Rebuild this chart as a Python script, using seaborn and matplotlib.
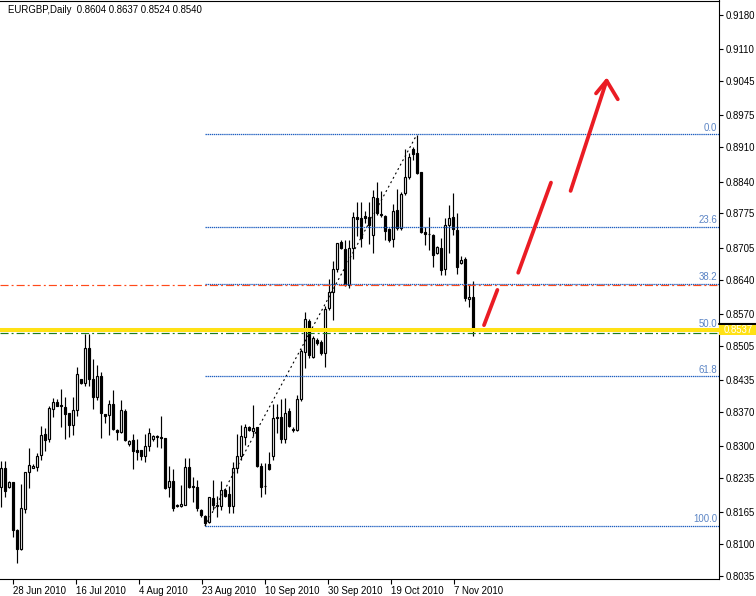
import numpy as np
import pandas as pd
import matplotlib
matplotlib.use("Agg")
import matplotlib.pyplot as plt
import matplotlib.transforms as mtransforms
from matplotlib.patches import Rectangle
from matplotlib.lines import Line2D
import seaborn as sns

title_text = "EURGBP,Daily  0.8604 0.8637 0.8524 0.8540"

opens = [0.8216, 0.8255, 0.8216, 0.8227, 0.8129, 0.8090, 0.8171, 0.8247, 0.8256, 0.8258,
         0.8282, 0.8324, 0.8314, 0.8375, 0.8390, 0.8384, 0.8381, 0.8367, 0.8343, 0.8373,
         0.8437, 0.8428, 0.8500, 0.8437, 0.8401, 0.8444, 0.8365, 0.8363, 0.8386, 0.8333,
         0.8330, 0.8372, 0.8304, 0.8312, 0.8292, 0.8292, 0.8280, 0.8300, 0.8314, 0.8321,
         0.8318, 0.8317, 0.8216, 0.8229, 0.8180, 0.8177, 0.8181, 0.8257, 0.8219, 0.8216,
         0.8170, 0.8158, 0.8146, 0.8194, 0.8178, 0.8178, 0.8211, 0.8203, 0.8178, 0.8255,
         0.8279, 0.8318, 0.8340, 0.8332, 0.8339, 0.8260, 0.8219, 0.8264, 0.8280, 0.8359,
         0.8359, 0.8314, 0.8371, 0.8336, 0.8334, 0.8396, 0.8493, 0.8556, 0.8483, 0.8517,
         0.8512, 0.8490, 0.8583, 0.8615, 0.8661, 0.8717, 0.8702, 0.8629, 0.8704, 0.8767,
         0.8765, 0.8770, 0.8767, 0.8732, 0.8806, 0.8773, 0.8770, 0.8743, 0.8722, 0.8782,
         0.8745, 0.8816, 0.8849, 0.8906, 0.8898, 0.8859, 0.8737, 0.8734, 0.8731, 0.8695,
         0.8704, 0.8661, 0.8751, 0.8767, 0.8741, 0.8673, 0.8683, 0.8600, 0.8604]
highs = [0.8270, 0.8270, 0.8229, 0.8227, 0.8132, 0.8223, 0.8248, 0.8296, 0.8264, 0.8286,
         0.8341, 0.8337, 0.8382, 0.8398, 0.8396, 0.8416, 0.8401, 0.8368, 0.8401, 0.8461,
         0.8437, 0.8530, 0.8530, 0.8477, 0.8466, 0.8452, 0.8365, 0.8394, 0.8415, 0.8335,
         0.8394, 0.8376, 0.8313, 0.8324, 0.8314, 0.8292, 0.8325, 0.8337, 0.8323, 0.8323,
         0.8362, 0.8317, 0.8260, 0.8254, 0.8183, 0.8221, 0.8275, 0.8276, 0.8238, 0.8231,
         0.8171, 0.8160, 0.8197, 0.8231, 0.8198, 0.8228, 0.8214, 0.8219, 0.8268, 0.8325,
         0.8343, 0.8345, 0.8341, 0.8384, 0.8340, 0.8266, 0.8266, 0.8289, 0.8386, 0.8386,
         0.8396, 0.8398, 0.8377, 0.8340, 0.8405, 0.8498, 0.8573, 0.8559, 0.8524, 0.8520,
         0.8517, 0.8586, 0.8641, 0.8677, 0.8715, 0.8721, 0.8721, 0.8721, 0.8777, 0.8799,
         0.8799, 0.8779, 0.8799, 0.8822, 0.8839, 0.8820, 0.8772, 0.8745, 0.8794, 0.8824,
         0.8819, 0.8906, 0.8898, 0.8910, 0.8936, 0.8860, 0.8747, 0.8768, 0.8734, 0.8709,
         0.8724, 0.8765, 0.8792, 0.8816, 0.8775, 0.8688, 0.8687, 0.8632, 0.8637]
lows = [0.8175, 0.8197, 0.8214, 0.8115, 0.8062, 0.8088, 0.8163, 0.8214, 0.8255, 0.8250,
        0.8272, 0.8291, 0.8309, 0.8360, 0.8382, 0.8340, 0.8314, 0.8318, 0.8323, 0.8362,
        0.8427, 0.8423, 0.8422, 0.8375, 0.8394, 0.8316, 0.8348, 0.8322, 0.8333, 0.8313,
        0.8326, 0.8311, 0.8301, 0.8253, 0.8271, 0.8271, 0.8268, 0.8291, 0.8311, 0.8299,
        0.8297, 0.8213, 0.8197, 0.8168, 0.8175, 0.8175, 0.8180, 0.8215, 0.8187, 0.8167,
        0.8156, 0.8137, 0.8144, 0.8170, 0.8156, 0.8170, 0.8197, 0.8164, 0.8164, 0.8245,
        0.8271, 0.8303, 0.8332, 0.8321, 0.8258, 0.8197, 0.8203, 0.8251, 0.8272, 0.8326,
        0.8307, 0.8306, 0.8340, 0.8328, 0.8332, 0.8393, 0.8459, 0.8481, 0.8479, 0.8507,
        0.8486, 0.8462, 0.8578, 0.8558, 0.8656, 0.8702, 0.8627, 0.8622, 0.8683, 0.8728,
        0.8707, 0.8756, 0.8713, 0.8695, 0.8772, 0.8768, 0.8721, 0.8717, 0.8706, 0.8741,
        0.8741, 0.8813, 0.8845, 0.8884, 0.8856, 0.8736, 0.8711, 0.8700, 0.8665, 0.8692,
        0.8649, 0.8649, 0.8694, 0.8731, 0.8651, 0.8672, 0.8597, 0.8585, 0.8524]
closes = [0.8255, 0.8209, 0.8227, 0.8130, 0.8090, 0.8173, 0.8247, 0.8262, 0.8260, 0.8280,
          0.8323, 0.8313, 0.8377, 0.8390, 0.8383, 0.8383, 0.8365, 0.8343, 0.8373, 0.8447,
          0.8428, 0.8500, 0.8438, 0.8400, 0.8444, 0.8367, 0.8362, 0.8386, 0.8335, 0.8330,
          0.8373, 0.8313, 0.8311, 0.8290, 0.8289, 0.8279, 0.8300, 0.8326, 0.8320, 0.8318,
          0.8317, 0.8214, 0.8230, 0.8173, 0.8177, 0.8182, 0.8257, 0.8217, 0.8216, 0.8173,
          0.8160, 0.8144, 0.8196, 0.8180, 0.8181, 0.8211, 0.8198, 0.8177, 0.8255, 0.8280,
          0.8321, 0.8339, 0.8333, 0.8337, 0.8260, 0.8217, 0.8218, 0.8253, 0.8357, 0.8358,
          0.8314, 0.8368, 0.8341, 0.8333, 0.8396, 0.8494, 0.8559, 0.8486, 0.8520, 0.8510,
          0.8490, 0.8581, 0.8615, 0.8661, 0.8714, 0.8704, 0.8629, 0.8704, 0.8767, 0.8763,
          0.8724, 0.8765, 0.8751, 0.8808, 0.8775, 0.8771, 0.8740, 0.8720, 0.8779, 0.8745,
          0.8815, 0.8850, 0.8890, 0.8896, 0.8857, 0.8738, 0.8733, 0.8733, 0.8690, 0.8706,
          0.8660, 0.8751, 0.8765, 0.8743, 0.8666, 0.8681, 0.8602, 0.8604, 0.8540]

date_labels = ["28 Jun 2010", "16 Jul 2010", "4 Aug 2010", "23 Aug 2010",
               "10 Sep 2010", "30 Sep 2010", "19 Oct 2010", "7 Nov 2010"]
date_ticks = [3, 18.75, 34.5, 50.25, 66, 81.75, 97.5, 113.25]

price_ticks = [0.9180, 0.9110, 0.9045, 0.8975, 0.8910, 0.8840, 0.8775, 0.8705, 0.8640,
               0.8570, 0.8505, 0.8435, 0.8370, 0.8300, 0.8235, 0.8165, 0.8100, 0.8035]

fib_high, fib_high_bar = 0.89365, 104
fib_low, fib_low_bar = 0.8137, 51
fib_levels = [0.0, 23.6, 38.2, 50.0, 61.8, 100.0]

yellow_level = 0.8537
red_level = 0.8628
green_level = 0.8531
price_label = "0.8537"

arrow_strokes = [
    [(120.75, 0.8547), (124.1, 0.8619)],
    [(129.3, 0.8654), (137.5, 0.8838)],
    [(142.4, 0.8821), (151.4, 0.9046)],
    [(148.75, 0.9020), (151.4, 0.9046), (154.2, 0.9008)],
]

# ---------------------------------------------------------------
sns.set_theme(style="white")
plt.rcParams['font.family'] = ['Liberation Sans', 'DejaVu Sans']
plt.rcParams['lines.scale_dashes'] = False
FS = 6.9

W, H = 756, 596
fig = plt.figure(figsize=(W / 100, H / 100), dpi=100)
fig.patch.set_facecolor('white')
ax = fig.add_axes([0, 17 / H, 719 / W, 578.5 / H])
ax.set_facecolor('white')

df = pd.DataFrame({'open': opens, 'high': highs, 'low': lows, 'close': closes})
df['bar'] = np.arange(len(df))
bull = df['close'] >= df['open']
bottoms = np.minimum(df['open'], df['close'])
heights = (df['close'] - df['open']).abs()

ax.vlines(df['bar'], df['low'], df['high'], color='black', lw=0.85, zorder=2)
ax.bar(df['bar'][bull], heights[bull], bottom=bottoms[bull], width=0.58,
       color='white', edgecolor='black', linewidth=0.85, zorder=3)
ax.bar(df['bar'][~bull], heights[~bull], bottom=bottoms[~bull], width=0.58,
       color='black', edgecolor='black', linewidth=0.85, zorder=3)

xmin, xmax = -0.25, 179.5
ax.set_xlim(xmin, xmax)
ax.set_ylim(0.80290, 0.92096)

# Fibonacci retracement
sns.lineplot(x=[fib_low_bar, fib_high_bar], y=[fib_low, fib_high], ax=ax,
             color='black', lw=0.8, linestyle=(0, (1.4, 2.2)), zorder=4)
fib_color = '#1f5fc0'
label_color = '#5b84c4'
for lvl in fib_levels:
    p = fib_high - (fib_high - fib_low) * lvl / 100.0
    ax.plot([fib_low_bar, xmax], [p, p], color=fib_color, lw=0.9,
            linestyle=(0, (1.0, 0.5)), zorder=4)
    ax.annotate(f"{lvl:.1f}", xy=(179.0, p), xytext=(0, 1.2), textcoords='offset points',
                ha='right', va='bottom', fontsize=FS, color=label_color, zorder=6)

# horizontal lines
ax.axhline(red_level, color='#ff4a1a', lw=0.85, linestyle=(0, (5.8, 2.2, 1.4, 2.2)), zorder=4)
ax.axhline(green_level, color='#1e7b1e', lw=0.85, linestyle=(0, (5.8, 2.2, 1.4, 2.2)), zorder=4)
ax.axhline(yellow_level, color='#FFE114', lw=2.9, zorder=5)

# hand-drawn arrow
for stroke in arrow_strokes:
    xs, ys = zip(*stroke)
    ax.plot(xs, ys, color='#ea1c24', lw=2.7, solid_capstyle='round',
            solid_joinstyle='round', zorder=7)

# axes styling
for s in ['top', 'right', 'bottom']:
    ax.spines[s].set_visible(True)
    ax.spines[s].set_color('black')
    ax.spines[s].set_linewidth(0.8)
ax.spines['left'].set_visible(False)
ax.grid(False)

ax.yaxis.tick_right()
ax.set_yticks(price_ticks)
ax.set_yticklabels([f"{v:.4f}" for v in price_ticks])
ax.tick_params(axis='y', which='both', right=True, left=False, direction='out',
               length=3, width=0.8, pad=1.5, labelsize=FS, colors='black')

ax.set_xticks(date_ticks)
ax.set_xticklabels(date_labels)
for t in ax.get_xticklabels():
    t.set_horizontalalignment('left')
ax.tick_params(axis='x', which='both', bottom=True, direction='out',
               length=3.5, width=0.8, pad=1.5, labelsize=FS, colors='black')
ax.set_xlabel('')
ax.set_ylabel('')

# title
fig.text(8 / W, 1 - 10 / H, title_text, ha='left', va='center', fontsize=FS, color='black')

# current price label on the axis
bt = mtransforms.blended_transform_factory(fig.transFigure, ax.transData)
px_to_price = (0.92096 - 0.80290) / 578.5
lab_h = 9.5 * px_to_price
fig.patches.append(Rectangle((719 / W, yellow_level - lab_h / 2), 37 / W, lab_h,
                             transform=bt, facecolor='#FFE114', edgecolor='none', zorder=5))
fig.lines.append(Line2D([719 / W, 1.0], [yellow_level + 6.3 * px_to_price] * 2,
                        transform=bt, color='black', lw=1.5))
fig.text(724 / W, yellow_level, price_label, transform=bt, ha='left', va='center',
         fontsize=FS, color='white', zorder=6)

fig.savefig('out.png', dpi=100, facecolor='white')
